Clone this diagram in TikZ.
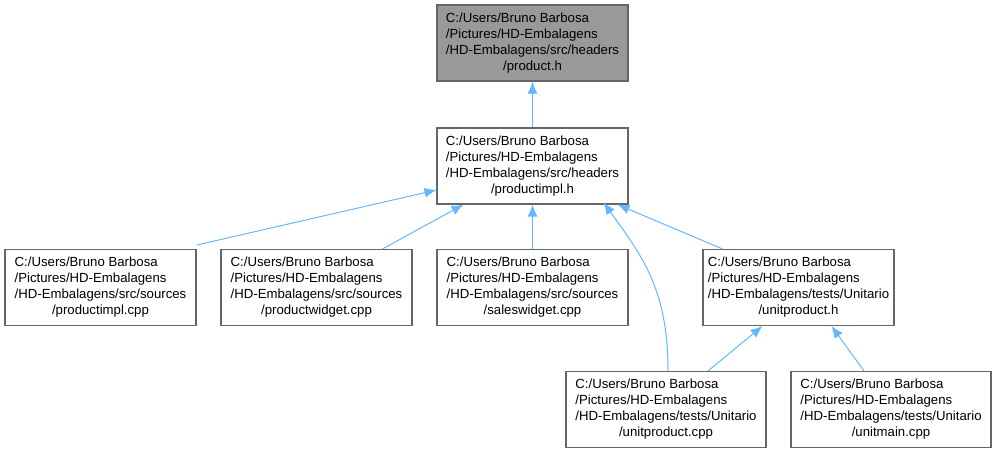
\documentclass[tikz,border=0pt]{standalone}
\usepackage{fontspec}
\setmainfont{Liberation Sans}
\usetikzlibrary{arrows.meta}
\definecolor{edgeblue}{RGB}{99,184,255}
\definecolor{frame}{RGB}{102,102,102}
\definecolor{focus}{RGB}{153,153,153}
\newcommand{\srcpath}[4]{\begin{tabular}{@{}l@{}}#1\\#2\\#3\\\multicolumn{1}{@{}c@{}}{#4}\end{tabular}}
\tikzset{
  file/.style={draw=frame,fill=white,line width=1.1pt,minimum width=191pt,minimum height=76pt,inner sep=0pt,font=\fontsize{13.2}{16}\selectfont},
  wide/.style={file,minimum width=200pt},
  cur/.style={file,fill=focus},
  dep/.style={-{Latex[length=12pt,width=10pt]},draw=edgeblue,line width=1pt}
}
\begin{document}
\begin{tikzpicture}[x=1pt,y=-1pt]
  \useasboundingbox (0,0) rectangle (996,453);

  \node[cur] (hdr) at (532.5,43) {\srcpath{C:/Users/Bruno Barbosa}{/Pictures/HD-Embalagens}{/HD-Embalagens/src/headers}{/product.h}};
  \node[file] (impl) at (532.5,166) {\srcpath{C:/Users/Bruno Barbosa}{/Pictures/HD-Embalagens}{/HD-Embalagens/src/headers}{/productimpl.h}};

  \node[file] (implcpp) at (100.5,287.5) {\srcpath{C:/Users/Bruno Barbosa}{/Pictures/HD-Embalagens}{/HD-Embalagens/src/sources}{/productimpl.cpp}};
  \node[file] (widget) at (316.5,287.5) {\srcpath{C:/Users/Bruno Barbosa}{/Pictures/HD-Embalagens}{/HD-Embalagens/src/sources}{/productwidget.cpp}};
  \node[file] (sales) at (532.5,287.5) {\srcpath{C:/Users/Bruno Barbosa}{/Pictures/HD-Embalagens}{/HD-Embalagens/src/sources}{/saleswidget.cpp}};
  \node[file] (unith) at (798.5,287.5) {\srcpath{C:/Users/Bruno Barbosa}{/Pictures/HD-Embalagens}{/HD-Embalagens/tests/Unitario}{/unitproduct.h}};

  \node[wide] (unitcpp) at (666,409.5) {\srcpath{C:/Users/Bruno Barbosa}{/Pictures/HD-Embalagens}{/HD-Embalagens/tests/Unitario}{/unitproduct.cpp}};
  \node[wide] (unitmain) at (891,409.5) {\srcpath{C:/Users/Bruno Barbosa}{/Pictures/HD-Embalagens}{/HD-Embalagens/tests/Unitario}{/unitmain.cpp}};

  % includes point up to the header they pull in
  \draw[dep] (impl.north) -- (hdr.south);
  \draw[dep] ([xshift=0.5pt,yshift=4pt]implcpp.north east) -- ([yshift=-24pt]impl.west);
  \draw[dep] ([xshift=66pt]widget.north) -- ([xshift=-69pt]impl.south);
  \draw[dep] (sales.north) -- (impl.south);
  \draw[dep] ([xshift=2pt]unitcpp.north) .. controls +(0,-80) and +(40,55) .. ([xshift=71pt,yshift=2pt]impl.south);
  \draw[dep] ([xshift=-76pt]unith.north) -- ([xshift=85pt]impl.south);
  \draw[dep] ([xshift=42pt]unitcpp.north) -- ([xshift=-36pt]unith.south);
  \draw[dep] ([xshift=-27pt]unitmain.north) -- ([xshift=33pt]unith.south);
\end{tikzpicture}
\end{document}
